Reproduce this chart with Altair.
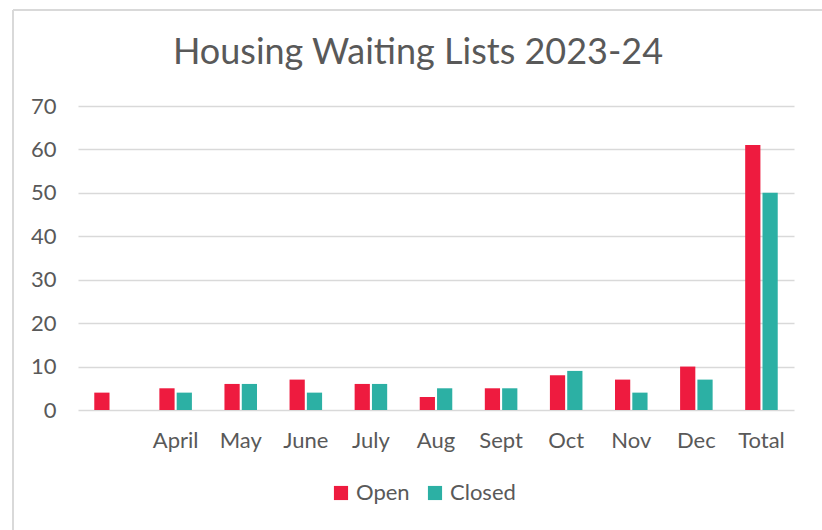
import altair as alt
import pandas as pd

months = [" ", "April", "May", "June", "July", "Aug", "Sept", "Oct", "Nov", "Dec", "Total"]
open_vals = [4, 5, 6, 7, 6, 3, 5, 8, 7, 10, 61]
closed_vals = [None, 4, 6, 4, 6, 5, 5, 9, 4, 7, 50]
series = ["Open", "Closed"]
colors = ["#EE1B3F", "#2CB0A4"]

rows = []
for m, o, c in zip(months, open_vals, closed_vals):
    if o is not None:
        rows.append({"Month": m, "Status": "Open", "Count": o})
    if c is not None:
        rows.append({"Month": m, "Status": "Closed", "Count": c})
df = pd.DataFrame(rows)

FONT = "Lato"
TXT = "#595959"

bars = alt.Chart(df).mark_bar().encode(
    x=alt.X("Month:N", sort=months, title=None,
            scale=alt.Scale(paddingInner=0.5, paddingOuter=0.25),
            axis=alt.Axis(labelAngle=0, ticks=False, domain=False, labelPadding=20,
                          labelFontSize=22, labelColor=TXT, labelFont=FONT)),
    xOffset=alt.XOffset("Status:N", sort=series, scale=alt.Scale(paddingInner=0.12)),
    y=alt.Y("Count:Q", title=None,
            scale=alt.Scale(domain=[0, 70], nice=False),
            axis=alt.Axis(values=list(range(0, 71, 10)), ticks=False, domain=False,
                          labelPadding=22, labelFontSize=22, labelColor=TXT, labelFont=FONT,
                          gridColor="#D9D9D9", gridWidth=1.5)),
    color=alt.Color("Status:N", sort=series,
                    scale=alt.Scale(domain=series, range=colors),
                    legend=alt.Legend(title=None, orient="none", direction="horizontal",
                                      legendX=252, legendY=376,
                                      symbolType="square", symbolSize=200,
                                      symbolStrokeWidth=0,
                                      labelFontSize=22, labelColor=TXT, labelFont=FONT,
                                      columnPadding=14, labelOffset=4)),
)

frame_top = alt.Chart(pd.DataFrame({"k": [0]})).mark_rule(color="#D9D9D9", strokeWidth=2).encode(
    x=alt.value(-65), x2=alt.value(760), y=alt.value(-96))
frame_left = alt.Chart(pd.DataFrame({"k": [0]})).mark_rule(color="#D9D9D9", strokeWidth=2).encode(
    x=alt.value(-65), y=alt.value(-96), y2=alt.value(440))

chart = alt.layer(bars, frame_top, frame_left).properties(
    width=716, height=304,
    padding={"left": 78, "top": 106, "right": 28, "bottom": 120},
    autosize=alt.AutoSizeParams(type="none"),
    title=alt.TitleParams("Housing Waiting Lists 2023-24", font=FONT, fontSize=36,
                          fontWeight="normal", color=TXT, anchor="middle", dx=-18,
                          offset=-63),
).configure(background="white", view=alt.ViewConfig(stroke=None))

chart.save("out.html", embed_options={"renderer": "svg", "actions": False})
